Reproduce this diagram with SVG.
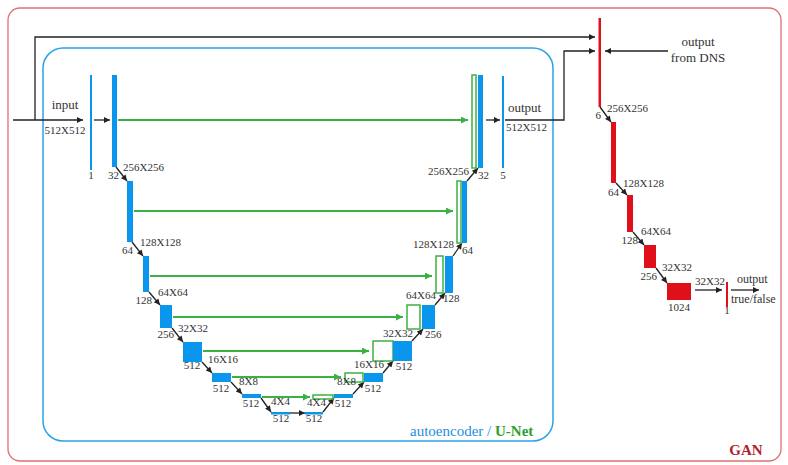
<svg xmlns="http://www.w3.org/2000/svg" width="788" height="465" viewBox="0 0 788 465" font-family="'Liberation Serif', 'Times New Roman', 'DejaVu Serif', serif">
<style>
text{font-family:'Liberation Serif','Times New Roman','DejaVu Serif',serif}
.t{font-size:11px;fill:#333}
.l{font-size:13px;fill:#333}
.m{text-anchor:middle}
.e{text-anchor:end}
.b{fill:#0a96ec}
.r{fill:#e0101a}
.g{fill:#fff;stroke:#3cb043;stroke-width:1.5}
.k{fill:none;stroke:#222;stroke-width:1.3}
.gl{fill:none;stroke:#3cb043;stroke-width:1.8}
</style>
<defs>
<marker id="ab" viewBox="0 0 10 10" refX="10" refY="5" markerWidth="9" markerHeight="6" markerUnits="userSpaceOnUse" orient="auto"><path d="M0,0 L10,5 L0,10 z" fill="#222"/></marker>
<marker id="ag" viewBox="0 0 10 10" refX="10" refY="5" markerWidth="10" markerHeight="7" markerUnits="userSpaceOnUse" orient="auto"><path d="M0,0 L10,5 L0,10 z" fill="#3cb043"/></marker>
</defs>
<rect width="788" height="465" fill="#fff"/>
<g id="gan-frame">
<rect x="8" y="8" width="773" height="453" rx="12" fill="none" stroke="#e07070" stroke-width="1.3"/>
<text x="746" y="455" class="m" font-size="15" font-weight="bold" fill="#b01c2e">GAN</text>
</g>
<g id="unet-frame">
<rect x="43" y="48" width="510" height="393" rx="20" fill="none" stroke="#2aa3e6" stroke-width="1.5"/>
<text x="410" y="436" font-size="15"><tspan fill="#1c8fe0">autoencoder / </tspan><tspan fill="#2e9e2e" font-weight="bold">U-Net</tspan></text>
</g>
<g id="connectors">
<path class="k" d="M13,120 H83" marker-end="url(#ab)"/>
<path class="k" d="M35,120 V37 H595" marker-end="url(#ab)"/>
<path class="k" d="M94,120 H110" marker-end="url(#ab)"/>
<path class="k" d="M486,120 H500" marker-end="url(#ab)"/>
<path class="k" d="M505,120 H564 V51 H595" marker-end="url(#ab)"/>
<path class="k" d="M668,51 H605" marker-end="url(#ab)"/>
<path class="k" d="M116,167 L127,181" marker-end="url(#ab)"/>
<path class="k" d="M132,242 L143,256" marker-end="url(#ab)"/>
<path class="k" d="M149,292 L160,305" marker-end="url(#ab)"/>
<path class="k" d="M172,328 L183,342" marker-end="url(#ab)"/>
<path class="k" d="M202,362 L212,373" marker-end="url(#ab)"/>
<path class="k" d="M231,382 L242,394" marker-end="url(#ab)"/>
<path class="k" d="M261,398 L271,412" marker-end="url(#ab)"/>
<path class="k" d="M290,413 H305" marker-end="url(#ab)"/>
<path class="k" d="M323,412 L334,398" marker-end="url(#ab)"/>
<path class="k" d="M353,394 L364,382" marker-end="url(#ab)"/>
<path class="k" d="M383,373 L393,361" marker-end="url(#ab)"/>
<path class="k" d="M412,341 L423,329" marker-end="url(#ab)"/>
<path class="k" d="M435,305 L445,293" marker-end="url(#ab)"/>
<path class="k" d="M453,256 L462,243" marker-end="url(#ab)"/>
<path class="k" d="M467,181 L478,168" marker-end="url(#ab)"/>
<path class="k" d="M600,107 L611,122" marker-end="url(#ab)"/>
<path class="k" d="M616,183 L627,195" marker-end="url(#ab)"/>
<path class="k" d="M633,232 L644,245" marker-end="url(#ab)"/>
<path class="k" d="M656,268 L667,283" marker-end="url(#ab)"/>
<path class="k" d="M695,290 H722" marker-end="url(#ab)"/>
<path class="k" d="M731,290 H759" marker-end="url(#ab)"/>
<path class="gl" d="M118,120 H468" marker-end="url(#ag)"/>
<path class="gl" d="M134,211 H453" marker-end="url(#ag)"/>
<path class="gl" d="M150,276 H432" marker-end="url(#ag)"/>
<path class="gl" d="M173,317 H403" marker-end="url(#ag)"/>
<path class="gl" d="M203,351 H369" marker-end="url(#ag)"/>
<path class="gl" d="M232,377 H341" marker-end="url(#ag)"/>
<path class="gl" d="M262,397 H310" marker-end="url(#ag)"/>
</g>
<g id="input">
<text x="65" y="109" class="l m">input</text>
<text x="65" y="134" class="t m">512X512</text>
<rect x="90" y="75" width="2" height="95" class="b"/>
<text x="91" y="179" class="t m">1</text>
</g>
<g id="enc1"><rect x="112" y="75" width="5" height="92" class="b"/><text x="119" y="179" class="t e">32</text><text x="123" y="171" class="t">256X256</text></g>
<g id="enc2"><rect x="127" y="181" width="6" height="61" class="b"/><text x="133" y="254" class="t e">64</text><text x="140" y="246" class="t">128X128</text></g>
<g id="enc3"><rect x="143" y="256" width="6" height="36" class="b"/><text x="152" y="304" class="t e">128</text><text x="158" y="296" class="t">64X64</text></g>
<g id="enc4"><rect x="160" y="305" width="12" height="23" class="b"/><text x="174" y="338" class="t e">256</text><text x="178" y="332" class="t">32X32</text></g>
<g id="enc5"><rect x="183" y="342" width="19" height="20" class="b"/><text x="192" y="369" class="t m">512</text><text x="208" y="363" class="t">16X16</text></g>
<g id="enc6"><rect x="212" y="373" width="19" height="9" class="b"/><text x="221" y="392" class="t m">512</text><text x="239" y="385" class="t">8X8</text></g>
<g id="enc7"><rect x="242" y="394" width="19" height="4" class="b"/><text x="251" y="407" class="t m">512</text><text x="271" y="405" class="t">4X4</text></g>
<g id="enc8"><rect x="271" y="412" width="19" height="2.5" class="b"/><text x="281" y="422" class="t m">512</text></g>
<g id="dec9"><rect x="305" y="412" width="18" height="2.5" class="b"/><text x="314" y="422" class="t m">512</text></g>
<g id="dec10"><rect x="313" y="395" width="20" height="4" class="g"/><rect x="334" y="394" width="19" height="4" class="b"/><text x="307" y="406" class="t">4X4</text><text x="343" y="407" class="t m">512</text></g>
<g id="dec11"><rect x="345" y="373" width="18" height="9" class="g"/><rect x="364" y="373" width="19" height="9" class="b"/><text x="337" y="385" class="t">8X8</text><text x="373" y="392" class="t m">512</text></g>
<g id="dec12"><rect x="373" y="341" width="20" height="20" class="g"/><rect x="393" y="341" width="19" height="20" class="b"/><text x="354" y="368" class="t">16X16</text><text x="404" y="370" class="t m">512</text></g>
<g id="dec13"><rect x="407" y="305" width="13" height="24" class="g"/><rect x="422" y="305" width="13" height="24" class="b"/><text x="383" y="337" class="t">32X32</text><text x="425" y="338" class="t">256</text></g>
<g id="dec14"><rect x="436" y="256" width="7" height="37" class="g"/><rect x="445" y="256" width="8" height="37" class="b"/><text x="406" y="299" class="t">64X64</text><text x="443" y="302" class="t">128</text></g>
<g id="dec15"><rect x="457" y="181" width="4" height="62" class="g"/><rect x="462" y="181" width="5" height="62" class="b"/><text x="413" y="248" class="t">128X128</text><text x="462" y="254" class="t">64</text></g>
<g id="dec16"><rect x="472" y="75" width="4" height="93" class="g"/><rect x="478" y="75" width="5" height="93" class="b"/><text x="428" y="175" class="t">256X256</text><text x="478" y="179" class="t">32</text></g>
<g id="output">
<rect x="502" y="76" width="2" height="92" class="b"/>
<text x="503" y="179" class="t m">5</text>
<text x="508" y="112" class="l">output</text>
<text x="506" y="131" class="t">512X512</text>
</g>
<g id="dns-input">
<text x="698" y="46" class="l m">output</text>
<text x="698" y="62" class="l m">from DNS</text>
</g>
<g id="gan0"><rect x="598.5" y="18" width="2.5" height="89" class="r"/><text x="601" y="119" class="t e">6</text><text x="607" y="112" class="t">256X256</text></g>
<g id="gan1"><rect x="611" y="122" width="5" height="61" class="r"/><text x="619" y="196" class="t e">64</text><text x="623" y="187" class="t">128X128</text></g>
<g id="gan2"><rect x="627" y="195" width="6" height="37" class="r"/><text x="638" y="244" class="t e">128</text><text x="641" y="235" class="t">64X64</text></g>
<g id="gan3"><rect x="644" y="245" width="12" height="23" class="r"/><text x="657" y="280" class="t e">256</text><text x="662" y="271" class="t">32X32</text></g>
<g id="gan4"><rect x="667" y="283" width="24" height="17" class="r"/><text x="679" y="311" class="t m">1024</text><text x="695" y="285" class="t">32X32</text></g>
<g id="gan5"><rect x="726" y="282" width="2" height="25" class="r"/><text x="727" y="314" class="t m" font-size="8">1</text></g>
<g id="gan-output">
<text x="737" y="283" font-size="12" fill="#333">output</text>
<text x="731" y="303" font-size="12" fill="#333">true/false</text>
</g>
</svg>
